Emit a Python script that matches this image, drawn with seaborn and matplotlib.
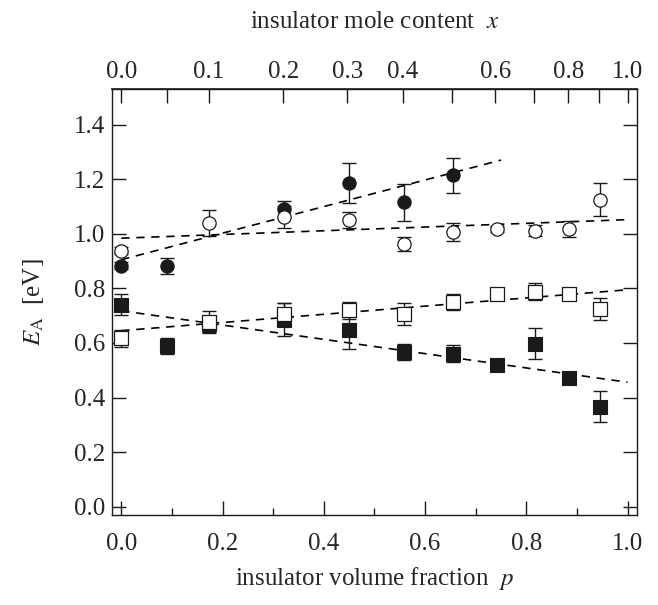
import numpy as np
import seaborn as sns
import matplotlib.pyplot as plt

# filled circles
p_fc = [0.0, 0.090, 0.321, 0.449, 0.559, 0.656]
E_fc = [0.883, 0.883, 1.092, 1.186, 1.115, 1.214]
err_fc = [0.012, 0.030, 0.030, 0.072, 0.068, 0.063]

# open circles
p_oc = [0.0, 0.173, 0.321, 0.449, 0.559, 0.656, 0.742, 0.818, 0.885, 0.946]
E_oc = [0.938, 1.039, 1.063, 1.051, 0.963, 1.006, 1.017, 1.011, 1.017, 1.125]
err_oc = [0.012, 0.048, 0.040, 0.030, 0.027, 0.032, 0.010, 0.020, 0.030, 0.060]

# open squares
p_os = [0.0, 0.173, 0.321, 0.449, 0.559, 0.656, 0.742, 0.818, 0.885, 0.946]
E_os = [0.617, 0.678, 0.705, 0.719, 0.705, 0.750, 0.780, 0.788, 0.780, 0.725]
err_os = [0.030, 0.040, 0.040, 0.030, 0.040, 0.030, 0.010, 0.030, 0.010, 0.040]

# filled squares
p_fs = [0.0, 0.090, 0.173, 0.321, 0.449, 0.559, 0.656, 0.742, 0.818, 0.885, 0.946]
E_fs = [0.740, 0.589, 0.670, 0.685, 0.648, 0.566, 0.560, 0.520, 0.597, 0.473, 0.367]
err_fs = [0.038, 0.030, 0.030, 0.060, 0.070, 0.030, 0.031, 0.010, 0.056, 0.010, 0.057]

# dashed linear fits: intercept, slope, p-range
fit_a = [0.905, 0.984, 0.645, 0.718]
fit_b = [0.487, 0.068, 0.150, -0.262]
fit_pmax = [0.75, 1.0, 1.0, 1.0]

# top axis: mole content x <-> volume fraction p
r = 1.883
x_ticks = [0.0, 0.05, 0.1, 0.2, 0.3, 0.4, 0.5, 0.6, 0.7, 0.8, 0.9, 1.0]
x_labels = ['0.0', '', '0.1', '0.2', '0.3', '0.4', '', '0.6', '', '0.8', '', '1.0']

def p_to_x(p):
    p = np.asarray(p, dtype=float)
    return p / (r - p * (r - 1))

def x_to_p(x):
    x = np.asarray(x, dtype=float)
    return r * x / (r * x + 1 - x)

sns.set_theme(style="ticks")
plt.rcParams['font.family'] = ['Liberation Serif', 'DejaVu Serif']
plt.rcParams['mathtext.fontset'] = 'stix'

fig = plt.figure(figsize=(6.58, 6.05), dpi=100)
ax = fig.add_axes([0.170, 0.149, 0.798, 0.704])
dark = '#1a1a1a'

# fits
for a, b, pm in zip(fit_a, fit_b, fit_pmax):
    pp = np.array([0.0, pm])
    ax.plot(pp, a + b * pp, ls=(0, (5, 4)), color='black', lw=1.2, zorder=1)

# error bars
for p, E, e in [(p_fc, E_fc, err_fc), (p_oc, E_oc, err_oc),
                (p_os, E_os, err_os), (p_fs, E_fs, err_fs)]:
    ax.errorbar(p, E, yerr=e, fmt='none', ecolor=dark, elinewidth=1.0,
                capsize=4.8, capthick=1.0, zorder=2)

ms = 92
sns.scatterplot(x=p_fs, y=E_fs, marker='s', s=ms, color=dark, edgecolor=dark,
                linewidth=0.8, ax=ax, zorder=3)
sns.scatterplot(x=p_os, y=E_os, marker='s', s=ms, color='white', edgecolor=dark,
                linewidth=0.9, ax=ax, zorder=4)
sns.scatterplot(x=p_fc, y=E_fc, marker='o', s=ms, color=dark, edgecolor=dark,
                linewidth=0.8, ax=ax, zorder=3)
sns.scatterplot(x=p_oc, y=E_oc, marker='o', s=ms, color='white', edgecolor=dark,
                linewidth=0.9, ax=ax, zorder=4)

ax.set_xlim(-0.0186, 1.0186)
ax.set_ylim(-0.030, 1.531)
ax.set_xticks(np.arange(0, 1.01, 0.2))
ax.set_xticks(np.arange(0.1, 1.0, 0.2), minor=True)
ax.set_yticks(np.arange(0, 1.41, 0.2))
ax.set_xticklabels([f'{v:.1f}' for v in np.arange(0, 1.01, 0.2)])
ax.set_yticklabels([f'{v:.1f}' for v in np.arange(0, 1.41, 0.2)])
ax.tick_params(axis='both', which='major', direction='in', length=10, width=1.0,
               labelsize=18, color=dark)
ax.tick_params(axis='x', which='major', pad=13)
ax.tick_params(axis='y', which='major', pad=5, right=True)
ax.tick_params(axis='x', which='minor', direction='in', length=5, width=1.0, color=dark)
ax.tick_params(axis='x', top=False)
for s in ax.spines.values():
    s.set_visible(True)
    s.set_linewidth(1.0)
    s.set_color(dark)

sec = ax.secondary_xaxis('top', functions=(p_to_x, x_to_p))
sec.set_xticks(x_ticks)
sec.set_xticklabels(x_labels)
sec.tick_params(direction='in', length=10, width=1.0, labelsize=18, pad=4, color=dark)
sec.set_xlabel(r'insulator mole content  $x$', fontsize=18, labelpad=24)

ax.set_xlabel(r'insulator volume fraction  $p$', fontsize=18, labelpad=7)
ax.set_ylabel(r'$E_{\mathrm{A}}$  [eV]', fontsize=18, labelpad=20)

fig.savefig('out.png', dpi=100, facecolor='white')
